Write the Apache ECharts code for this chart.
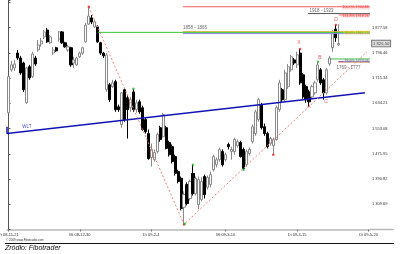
<!DOCTYPE html>
<html><head><meta charset="utf-8">
<script src="https://cdn.jsdelivr.net/npm/echarts/dist/echarts.min.js"></script>
<style>html,body{margin:0;padding:0;background:#fff}#c{width:400px;height:254px}</style>
</head><body><div id="c"></div>
<script>
// ---- data ----
const tradingDays = Array.from({length: 122}, (_, i) => i); // trading-day slots 2008-11-21 .. 2009-05-20
const tickIndex = [0, 24, 48, 73, 97, 121];
const tickLabels = ['Fr 08-11-21', 'Mi 08-12-30', 'Di 09-2-4', 'Mi 09-3-10', 'Di 09-4-15', 'Di 09-5-20'];
const yTickValues = [1309.69, 1390.82, 1471.95, 1553.08, 1634.21, 1715.34, 1796.46, 1877.58];

const opens = [1604,1742,1748,1796,1780,1764,1636,1752,1720,1780,
1806,1825,1848,1870,1829,1796,1813,1841,1864,1829,
1806,1813,1764,1758,1784,1796,1832,1889,1909,1880,
1880,1829,1796,1678,1694,1688,1704,1623,1566,1678,
1652,1620,1671,1614,1639,1620,1582,1537,1460,1453,
1479,1556,1527,1556,1508,1495,1463,1415,1393,1300,
1373,1328,1409,1344,1309,1325,1399,1364,1373,1421,
1437,1453,1479,1453,1502,1479,1479,1498,1508,1486,
1437,1473,1511,1537,1582,1630,1559,1537,1505,1498,
1518,1614,1678,1646,1688,1742,1774,1758,1796,1726,
1688,1671,1655,1668,1710,1742,1710,1668,1761,1813,
1873,1822];
const closes = [1720,1758,1761,1780,1732,1678,1748,1716,1793,1761,
1822,1835,1864,1832,1848,1806,1803,1864,1829,1816,
1816,1758,1774,1780,1796,1813,1886,1915,1896,1896,
1832,1796,1787,1790,1646,1700,1614,1614,1668,1582,
1614,1646,1614,1636,1607,1550,1543,1457,1486,1476,
1534,1518,1598,1489,1469,1447,1409,1383,1296,1341,
1312,1383,1344,1393,1389,1383,1341,1396,1405,1463,
1453,1486,1437,1469,1495,1486,1518,1511,1463,1425,
1479,1486,1559,1607,1646,1556,1537,1495,1521,1518,
1620,1700,1646,1732,1752,1784,1764,1790,1700,1655,
1646,1639,1688,1700,1758,1700,1668,1742,1780,1861,
1845,1826.5];
const lows = [1601,1736,1739,1774,1726,1671,1633,1710,1716,1755,
1800,1816,1841,1829,1825,1790,1800,1832,1825,1813,
1800,1752,1748,1755,1780,1790,1829,1886,1889,1877,
1829,1790,1780,1671,1639,1684,1607,1607,1556,1575,
1521,1607,1607,1604,1601,1546,1537,1453,1431,1447,
1473,1511,1524,1486,1463,1441,1402,1377,1290,1245,
1306,1322,1338,1338,1293,1319,1328,1357,1364,1415,
1428,1447,1431,1447,1486,1453,1469,1492,1460,1421,
1431,1466,1505,1530,1575,1550,1530,1489,1498,1469,
1514,1607,1639,1639,1681,1736,1758,1748,1694,1649,
1636,1623,1649,1662,1704,1694,1646,1662,1755,1800,
1832,1819];
const highs = [1723,1771,1774,1806,1787,1768,1752,1758,1800,1787,
1838,1845,1870,1877,1854,1816,1816,1867,1867,1832,
1822,1816,1784,1784,1800,1816,1893,1944.86,1918,1902,
1886,1832,1800,1796,1700,1710,1710,1630,1671,1684,
1662,1655,1681,1646,1646,1627,1588,1550,1505,1486,
1540,1562,1604,1562,1514,1502,1469,1421,1399,1351,
1380,1389,1437,1399,1399,1396,1405,1402,1415,1469,
1460,1492,1486,1476,1508,1495,1524,1518,1514,1492,
1486,1492,1566,1614,1652,1636,1569,1543,1527,1524,
1627,1710,1684,1742,1761,1790,1780,1800,1809,1732,
1694,1678,1694,1707,1768,1748,1716,1748,1787,1870,
1886,1889];

// trend lines [slot, price]
const wltLine = [[-0.5, 1559], [-0.5, 1537], [119.8, 1668]];
const xabcdPath = [[27, 1944.86], [59, 1245], [120.5, 1800]];

// horizontal levels
const levelPrices = [1944.86, 1923, 1918.3, 1865, 1862.5, 1858.5, 1777, 1769, 1766];
const levelStarts = [58.6, 100.7, 111, 58.6, 30.2, 58.6, 108.4, 110.8, 111];
const levelColors = ['#ff5a5a', '#555555', '#ff7070', '#e8b840', '#3cc03c', '#8a8ae6', '#3cc03c', '#8a5fd0', '#ff8a8a'];
const levelTexts = ['100.0% 1944.86', '161.8% 1918.26', '88.6% 1862.73', '78.6% 1773.06'];
const levelTextPrices = [1942.5, 1916.5, 1862, 1771];
const levelTextColors = ['#e02020', '#e02020', '#8a8a00', '#7030a0'];
const levelTextBg = ['rgba(255,170,170,0.45)', 'rgba(255,170,170,0.45)', 'rgba(255,235,80,0.6)', 'rgba(160,230,160,0.5)'];
const zoneTexts = ['1858 - 1865', '1918 - 1923', '1769 - 1777'];
const zonePos = [[62.7, 1878], [105.2, 1932.7], [114.3, 1748]];
const pointNames = ['X', 'A', 'B', 'C', 'D'];
const pointPos = [[97.6, 1828.5], [101.0, 1623.4], [104.7, 1780.5], [106.7, 1639.4], [110.1, 1902.3]];
const redDots = [[27, 1944.86], [89, 1469], [98, 1809], [110, 1886], [59, 1245]];
const greenDots = [[42, 1681], [62, 1437], [79, 1421], [104, 1768], [59.3, 1247]];
const lastPrice = 1826.5;

// ---- chart ----
const fmtY = t => t.toFixed(2).replace(/^(\d)(\d{3})/, '$1 $2');
const candleData = opens.map((o, i) => [o, closes[i], lows[i], highs[i]]);
const N = tradingDays.length;
const FONT = 'Liberation Sans';

const series = [{
  type: 'candlestick', xAxisIndex: 0, yAxisIndex: 0, data: candleData,
  barWidth: 2.6, z: 2,
  itemStyle: {color: '#ffffff', color0: '#000000', borderColor: '#8a8a8a', borderColor0: '#000000', borderWidth: 1}
}];

levelPrices.forEach((p, k) => {
  series.push({
    type: 'line', xAxisIndex: 1, yAxisIndex: 0, symbol: 'none', z: 4, silent: true,
    data: [[levelStarts[k], p], [N - 0.5, p]],
    lineStyle: {color: levelColors[k], width: 1}
  });
});

series.push({
  type: 'line', xAxisIndex: 1, symbol: 'none', z: 5, data: wltLine,
  lineStyle: {color: '#1414b4', width: 1.5}
});
series.push({
  type: 'line', xAxisIndex: 1, symbol: 'none', z: 5, data: xabcdPath,
  lineStyle: {color: '#f08080', width: 1, type: [2, 2]}
});
series.push({
  type: 'scatter', xAxisIndex: 1, symbolSize: 2.5, z: 6, data: redDots, itemStyle: {color: '#e02020'}
});
series.push({
  type: 'scatter', xAxisIndex: 1, symbolSize: 2.5, z: 6, data: greenDots, itemStyle: {color: '#20c020'}
});

const texts = [];
texts.push({value: [6.2, 1559], label: {formatter: 'WLT', color: '#1414b4', fontSize: 4.5, position: 'inside'}});
zoneTexts.forEach((t, k) => texts.push({value: zonePos[k], label: {formatter: t, color: '#444', fontSize: 4.5, position: 'inside'}}));
pointNames.forEach((t, k) => texts.push({value: pointPos[k], label: {formatter: t, color: '#e03030', fontSize: 5, position: 'inside'}}));
levelTexts.forEach((t, k) => texts.push({value: [N - 0.6, levelTextPrices[k]], label: {formatter: t, color: levelTextColors[k], fontSize: 3.6, position: 'left', distance: 0, backgroundColor: levelTextBg[k], padding: [0, 1]}}));
texts.push({value: [N - 0.5, lastPrice], label: {formatter: fmtY(lastPrice), color: '#222', fontSize: 4.2, position: 'right', distance: 2,
  backgroundColor: '#d8d8d8', borderColor: '#444', borderWidth: 0.8, padding: [1, 1]}});
series.push({
  type: 'scatter', xAxisIndex: 1, symbolSize: 0, z: 8, clip: false, silent: true, data: texts,
  label: {show: true, fontFamily: FONT}
});

const option = {
  animation: false,
  backgroundColor: '#ffffff',
  textStyle: {fontFamily: FONT},
  grid: {left: 7, right: 30, top: 0, bottom: 24.5, containLabel: false, outerBoundsMode: 'none'},
  xAxis: [{
    type: 'category', data: tradingDays, boundaryGap: true,
    axisLine: {lineStyle: {color: '#b8b8b8', width: 1.5}},
    axisTick: {show: true, alignWithLabel: true, length: 2, interval: (i) => tickIndex.includes(i), lineStyle: {color: '#777'}},
    axisLabel: {interval: (i) => tickIndex.includes(i), formatter: (v, i) => { const k = tickIndex.indexOf(i); return k >= 0 ? tickLabels[k] : ''; },
      fontSize: 4, color: '#333', margin: 3, fontFamily: FONT},
    splitLine: {show: false}
  }, {
    type: 'value', min: -0.5, max: N - 0.5, show: false
  }],
  yAxis: [{
    type: 'value', position: 'right', min: 1228.563, max: 1966.6, interval: 81.127,
    axisLine: {show: true, lineStyle: {color: '#555', width: 1}},
    axisTick: {show: true, length: 2, lineStyle: {color: '#555'}},
    axisLabel: {fontSize: 4, color: '#333', margin: 2, fontFamily: FONT,
      formatter: (v) => { const t = yTickValues.find(x => Math.abs(x - v) < 1); return t ? fmtY(t) : ''; }},
    splitLine: {show: false}
  }],
  graphic: [
    {type: 'line', shape: {x1: 370, y1: 229.5, x2: 394, y2: 229.5}, style: {stroke: '#b8b8b8', lineWidth: 1.5}, silent: true},
    {type: 'line', shape: {x1: 5, y1: 243.5, x2: 394, y2: 243.5}, style: {stroke: '#111', lineWidth: 1}, silent: true},
    {type: 'text', left: 6, top: 239, style: {text: '© 2009 www.Fibotrader.com', fontSize: 3, fill: '#333', fontFamily: FONT}, silent: true},
    {type: 'text', left: 5, top: 245, style: {text: 'Zródło: Fibotrader', fontSize: 7, fontStyle: 'italic', fill: '#111', fontFamily: FONT}, silent: true}
  ],
  series
};

const chart = echarts.init(document.getElementById('c'), null, {renderer: 'canvas'});
chart.setOption(option);
</script></body></html>
